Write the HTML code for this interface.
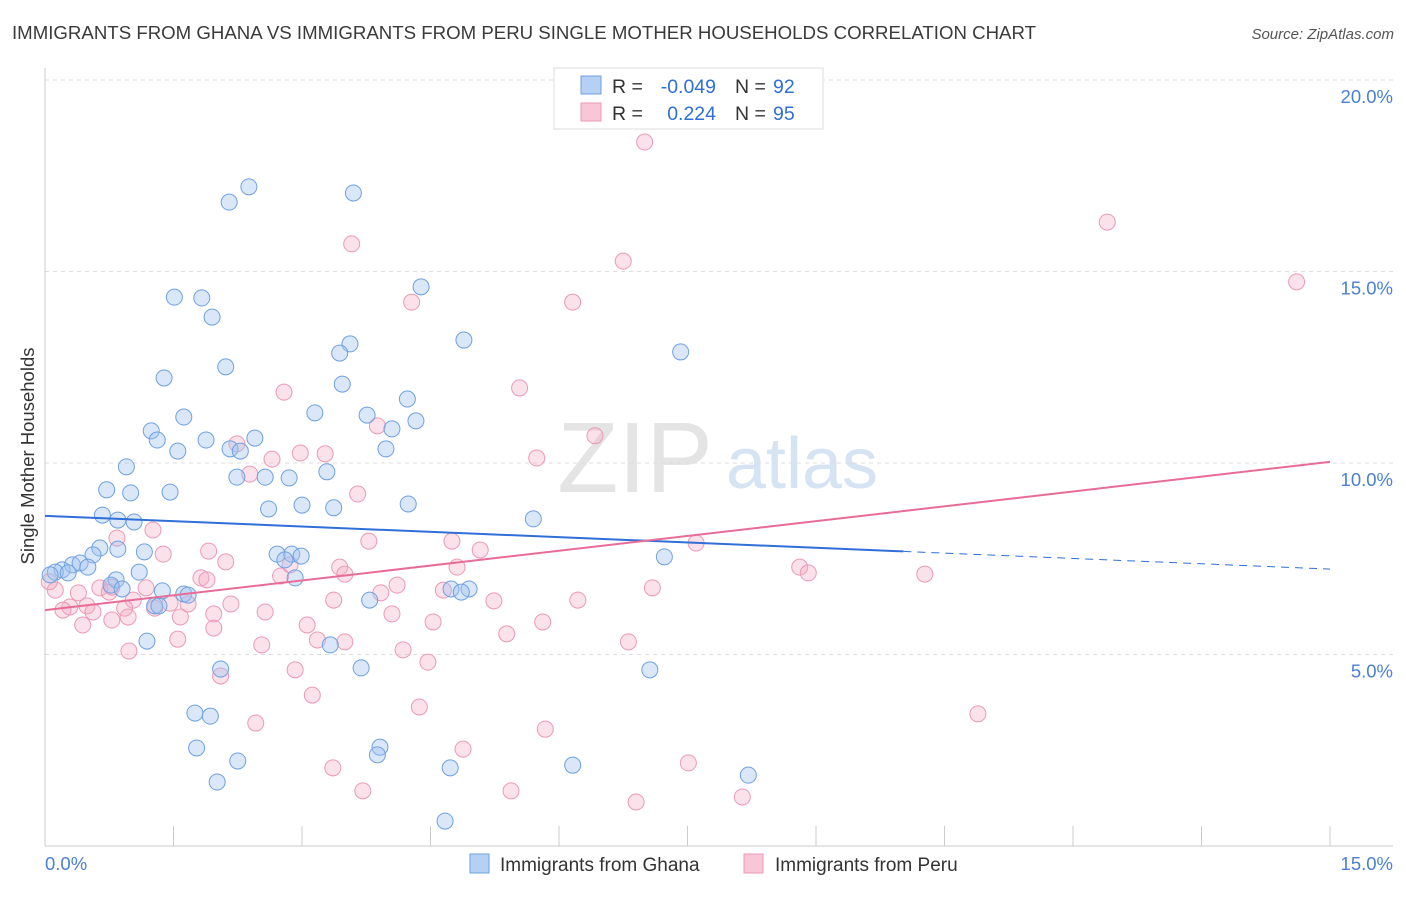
<!DOCTYPE html>
<html><head><meta charset="utf-8"><style>
body{margin:0;background:#fff;font-family:"Liberation Sans",sans-serif}
svg text{font-family:"Liberation Sans",sans-serif}
</style></head><body>
<svg id="chart" width="1406" height="892" viewBox="0 0 1406 892" xmlns="http://www.w3.org/2000/svg">
<text x="12" y="39" font-size="18.5" fill="#3a3a3a" textLength="1024" lengthAdjust="spacingAndGlyphs">IMMIGRANTS FROM GHANA VS IMMIGRANTS FROM PERU SINGLE MOTHER HOUSEHOLDS CORRELATION CHART</text>
<text x="1394" y="39" font-size="15" fill="#555" font-style="italic" text-anchor="end">Source: ZipAtlas.com</text>
<g>
<text x="635" y="492" font-size="100" fill="#e4e4e4" font-family="Liberation Serif" text-anchor="middle">ZIP</text>
<text x="802" y="488" font-size="72" fill="#d6e3f3" text-anchor="middle">atlas</text>
</g>
<g id="grid"></g>
<g id="axes"></g>
<g id="marks"></g>
<g id="trends"></g>
<text transform="translate(34,456) rotate(-90)" font-size="18.5" fill="#333" text-anchor="middle">Single Mother Households</text>
<g>
<rect x="554" y="68" width="269" height="61" fill="#fff" stroke="#ddd"/>
<rect x="581" y="76" width="20" height="18" fill="#b6d0f3" stroke="#6fa0e0"/>
<text x="612" y="93" font-size="19.5" fill="#333">R =</text>
<text x="716" y="93" font-size="19.5" fill="#2f6fd6" text-anchor="end">-0.049</text>
<text x="735" y="93" font-size="19.5" fill="#333">N =</text>
<text x="773" y="93" font-size="19.5" fill="#2f6fd6">92</text>
<rect x="581" y="103" width="20" height="18" fill="#f8c6d6" stroke="#eb9ab5"/>
<text x="612" y="120" font-size="19.5" fill="#333">R =</text>
<text x="716" y="120" font-size="19.5" fill="#2f6fd6" text-anchor="end">0.224</text>
<text x="735" y="120" font-size="19.5" fill="#333">N =</text>
<text x="773" y="120" font-size="19.5" fill="#2f6fd6">95</text>
</g>
<g>
<rect x="470" y="854" width="19" height="19" fill="#b6d0f3" stroke="#6fa0e0"/>
<text x="500" y="871" font-size="19" fill="#333">Immigrants from Ghana</text>
<rect x="744" y="854" width="19" height="19" fill="#f8c6d6" stroke="#eb9ab5"/>
<text x="775" y="871" font-size="19" fill="#333">Immigrants from Peru</text>
</g>
</svg>
<script>
const xTickValues=[0,1.5,3,4.5,6,7.5,9,10.5,12,13.5,15];
const yTickValues=[5,10,15,20];
const yTickLabels=["5.0%","10.0%","15.0%","20.0%"];
const xEndLabels=["0.0%","15.0%"];
const ghanaX=[2.38,2.15,3.60,1.51,1.83,1.95,4.39,4.89,3.56,3.44,7.42,2.11,1.39,3.47,4.23,1.62,3.15,3.76,4.33,4.05,1.24,1.31,1.88,2.45,1.55,2.16,2.28,3.98,0.95,2.24,2.57,2.85,3.29,0.72,1.00,1.46,2.61,3.00,3.37,4.24,0.67,0.85,1.04,5.70,0.85,0.64,0.56,1.16,2.71,2.88,2.99,2.80,7.23,0.32,0.41,0.50,0.20,0.12,0.27,0.06,1.10,0.83,0.77,0.90,2.92,1.37,1.62,1.67,4.74,4.95,4.86,1.28,3.79,1.19,3.33,2.05,3.69,7.06,1.75,1.93,2.25,1.77,3.91,3.88,6.16,4.73,2.01,8.21,4.67,1.33];
const ghanaY=[17.21,16.81,17.05,14.33,14.31,13.81,14.60,13.21,13.11,12.87,12.90,12.51,12.22,12.06,11.67,11.20,11.31,11.25,11.10,10.89,10.84,10.60,10.60,10.65,10.31,10.37,10.31,10.37,9.90,9.63,9.63,9.61,9.77,9.30,9.22,9.24,8.80,8.90,8.83,8.93,8.64,8.51,8.46,8.54,7.75,7.78,7.60,7.68,7.62,7.62,7.57,7.47,7.55,7.34,7.39,7.28,7.21,7.15,7.13,7.08,7.15,6.95,6.81,6.71,7.00,6.66,6.58,6.55,6.71,6.71,6.63,6.27,6.42,5.35,5.25,4.62,4.65,4.60,3.47,3.39,2.22,2.56,2.58,2.38,2.11,2.04,1.67,1.85,0.65,6.27];
const peruX=[7.00,12.40,3.58,6.75,14.61,4.28,6.16,2.79,5.54,3.88,6.42,2.24,2.98,3.27,2.65,5.74,2.39,3.65,1.26,0.84,4.75,3.78,5.08,1.38,7.60,1.91,2.86,2.11,3.44,8.81,8.91,10.27,3.50,4.81,2.75,1.82,1.89,7.09,4.11,4.65,1.18,0.64,0.78,0.75,3.92,0.12,0.39,1.03,5.24,6.22,3.37,1.46,1.67,2.17,0.29,0.49,0.56,0.21,0.93,1.28,2.57,1.97,0.97,1.58,4.05,4.53,5.81,3.06,0.44,0.78,1.97,5.39,3.18,1.55,2.53,3.50,4.18,6.81,0.98,2.92,4.47,2.05,3.12,4.37,10.89,2.46,5.84,4.88,3.36,7.51,3.71,5.44,8.14,6.90,0.05];
const peruY=[18.38,16.29,15.72,15.27,14.73,14.20,14.20,11.85,11.96,10.97,10.71,10.50,10.26,10.24,10.10,10.13,9.71,9.19,8.25,8.04,7.96,7.96,7.73,7.62,7.91,7.70,7.34,7.42,7.28,7.28,7.13,7.10,7.10,7.28,7.05,7.00,6.95,6.74,6.81,6.68,6.74,6.74,6.76,6.63,6.61,6.68,6.61,6.42,6.40,6.42,6.42,6.34,6.32,6.32,6.24,6.27,6.11,6.16,6.21,6.21,6.11,6.06,5.98,5.98,6.06,5.85,5.85,5.77,5.77,5.90,5.69,5.54,5.38,5.40,5.25,5.33,5.12,5.33,5.09,4.60,4.80,4.44,3.94,3.63,3.45,3.21,3.05,2.53,2.04,2.17,1.44,1.44,1.28,1.15,6.90];
const ghanaTrend=[8.62,7.23];   // y at x=0, y at x=15
const ghanaSolidEnd=10.02;
const peruTrend=[6.16,10.03];

const NS="http://www.w3.org/2000/svg";
const X0=45,X1=1330,Y0=846,Y20=80;
function sx(v){return X0+(v/15)*(X1-X0);}
function sy(v){return Y0-(v/20)*(Y0-Y20);}
function mk(tag,attrs,parent){const e=document.createElementNS(NS,tag);for(const k in attrs)e.setAttribute(k,attrs[k]);parent.appendChild(e);return e;}
const grid=document.getElementById('grid'),axes=document.getElementById('axes'),marks=document.getElementById('marks'),trends=document.getElementById('trends');
yTickValues.forEach((v,i)=>{
  const l=mk('line',{x1:X0,x2:1393,y1:sy(v),y2:sy(v),stroke:'#ddd','stroke-dasharray':'4,4'},grid);
  
  
  const t=mk('text',{x:1393,y:sy(v)+23,'font-size':18.5,fill:'#4a7fd6','text-anchor':'end'},axes);
  t.textContent=yTickLabels[i];
  
  
});
const ya=mk('line',{x1:X0,x2:X0,y1:68,y2:Y0,stroke:'#ccc'},axes);


const xa=mk('line',{x1:X0,x2:1393,y1:Y0,y2:Y0,stroke:'#ccc'},axes);


xTickValues.forEach(v=>{
  const t=mk('line',{x1:sx(v),x2:sx(v),y1:826,y2:Y0,stroke:'#ccc'},axes);
  
  
});
const xl0=mk('text',{x:45,y:870,'font-size':18.5,fill:'#4a7fd6'},axes);xl0.textContent=xEndLabels[0];


const xl1=mk('text',{x:1393,y:870,'font-size':18.5,fill:'#4a7fd6','text-anchor':'end'},axes);xl1.textContent=xEndLabels[1];


peruX.forEach((v,i)=>{
  const c=mk('circle',{cx:sx(v),cy:sy(peruY[i]),r:8,fill:'rgba(244,170,195,0.35)',stroke:'#eb9ab5','stroke-width':1},marks);
  
  
});
ghanaX.forEach((v,i)=>{
  const c=mk('circle',{cx:sx(v),cy:sy(ghanaY[i]),r:8,fill:'rgba(160,196,240,0.4)',stroke:'#6fa0e0','stroke-width':1},marks);
  
  
});
function ty(tr,x){return tr[0]+(tr[1]-tr[0])*x/15;}
const gs=mk('line',{x1:sx(0),y1:sy(ty(ghanaTrend,0)),x2:sx(ghanaSolidEnd),y2:sy(ty(ghanaTrend,ghanaSolidEnd)),stroke:'#2f6fd6','stroke-width':2},trends);


const gd=mk('line',{x1:sx(ghanaSolidEnd),y1:sy(ty(ghanaTrend,ghanaSolidEnd)),x2:sx(15),y2:sy(ty(ghanaTrend,15)),stroke:'#2f6fd6','stroke-width':1,'stroke-dasharray':'8,6'},trends);


const pl=mk('line',{x1:sx(0),y1:sy(ty(peruTrend,0)),x2:sx(15),y2:sy(ty(peruTrend,15)),stroke:'#e86c98','stroke-width':2},trends);


</script>
</body></html>
